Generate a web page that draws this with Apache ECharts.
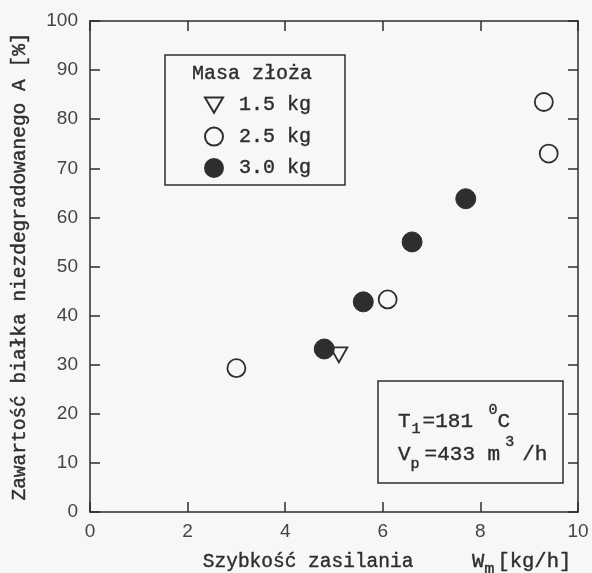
<!DOCTYPE html>
<html><head><meta charset="utf-8">
<script src="https://cdn.jsdelivr.net/npm/echarts@6/dist/echarts.min.js"></script>
<style>html,body{margin:0;padding:0;background:#f7f7f5;}#c{width:592px;height:573px;}</style>
</head><body><div id="c"></div>
<script>
// Data
const seriesNames = ['1.5 kg', '2.5 kg', '3.0 kg'];
const x15 = [5.1];
const y15 = [32.0];
const x25 = [3.0, 6.1, 9.3, 9.4];
const y25 = [29.3, 43.3, 83.5, 73.0];
const x30 = [4.8, 5.6, 6.6, 7.7];
const y30 = [33.2, 42.8, 55.0, 63.8];
const xTicks = [0, 2, 4, 6, 8, 10];
const yTicks = [0, 10, 20, 30, 40, 50, 60, 70, 80, 90, 100];
const legendTitle = 'Masa złoża';
const xTitle = 'Szybkość zasilania';
const yTitle = 'Zawartość białka niezdegradowanego A [%]';

const ink = '#2e2e2e';
const lbl = '#444444';
const mono = '"Liberation Mono", "DejaVu Sans Mono", monospace';
const sans = '"Liberation Sans", Arial, sans-serif';
const zip = (xs, ys) => xs.map((x, i) => [x, ys[i]]);

// ECharts component text style (color / textBorder*)
const r = (size, extra) => Object.assign({ color: ink, fontSize: size, fontFamily: mono,
  textBorderColor: ink, textBorderWidth: 0.4 }, extra || {});
// zrender graphic text style (fill / stroke)
const g = (size, extra) => Object.assign({ fill: ink, fontSize: size, fontFamily: mono,
  stroke: ink, lineWidth: 0.4 }, extra || {});

const chart = echarts.init(document.getElementById('c'));
const lineStyle = { color: ink, width: 1.5 };
const frameAxis = {
  axisLine: { show: true, onZero: false, lineStyle: lineStyle },
  axisTick: { show: true, inside: true, length: 10, lineStyle: lineStyle },
  axisLabel: { show: false },
  splitLine: { show: false }
};
chart.setOption({
  backgroundColor: '#f7f7f5',
  animation: false,
  grid: { left: 90, right: 14, top: 21, bottom: 61, outerBoundsMode: 'none', containLabel: false },
  xAxis: [{
    type: 'value', min: 0, max: 10, interval: 2,
    axisLine: { show: true, onZero: false, lineStyle: lineStyle },
    axisTick: { show: true, inside: true, length: 10, lineStyle: lineStyle },
    axisLabel: { color: lbl, fontSize: 19, fontFamily: sans, margin: 10,
      formatter: v => xTicks.includes(v) ? String(v) : '' },
    splitLine: { show: false },
    name: '{t|' + xTitle + '     }{w|W}{s|m}{w|[kg/h]}',
    nameLocation: 'middle', nameGap: 33,
    nameTextStyle: Object.assign(r(19.5), { padding: [0, 0, 0, 106],
      rich: {
        t: r(19.5),
        w: r(20.5),
        s: r(17, { padding: [16, 3, 0, 0] })
      } })
  }, Object.assign({ type: 'value', position: 'top', min: 0, max: 10, interval: 2 }, frameAxis)],
  yAxis: [{
    type: 'value', min: 0, max: 100, interval: 10,
    axisLine: { show: true, onZero: false, lineStyle: lineStyle },
    axisTick: { show: true, inside: true, length: 10, lineStyle: lineStyle },
    axisLabel: { color: lbl, fontSize: 19, fontFamily: sans, margin: 12,
      formatter: v => yTicks.includes(v) ? String(v) : '' },
    splitLine: { show: false },
    name: yTitle, nameLocation: 'middle', nameGap: 60,
    nameTextStyle: r(19.5)
  }, Object.assign({ type: 'value', position: 'right', min: 0, max: 100, interval: 10 }, frameAxis)],
  legend: {
    orient: 'vertical', left: 204, top: 95, padding: 0,
    itemWidth: 18, itemHeight: 18, itemGap: 11,
    symbolRotate: 0, symbolKeepAspect: true,
    data: [
      { name: seriesNames[0], icon: 'path://M0,0L20,0L10,17Z' },
      { name: seriesNames[1] },
      { name: seriesNames[2] }
    ],
    textStyle: r(20, { padding: [0, 0, 0, 11] }),
    selectedMode: false
  },
  series: [
    { name: seriesNames[0], type: 'scatter', data: zip(x15, y15), symbol: 'triangle', symbolRotate: 180,
      symbolSize: [17, 15], itemStyle: { color: 'rgba(0,0,0,0)', borderColor: ink, borderWidth: 1.8, opacity: 1 } },
    { name: seriesNames[1], type: 'scatter', data: zip(x25, y25), symbol: 'circle', symbolSize: 18,
      itemStyle: { color: 'rgba(0,0,0,0)', borderColor: ink, borderWidth: 1.8, opacity: 1 } },
    { name: seriesNames[2], type: 'scatter', data: zip(x30, y30), symbol: 'circle', symbolSize: 20,
      itemStyle: { color: '#2e2e2e', borderColor: '#2e2e2e', borderWidth: 1, opacity: 1 } }
  ],
  graphic: [
    { type: 'rect', shape: { x: 165, y: 55, width: 180, height: 130 },
      style: { fill: 'rgba(0,0,0,0)', stroke: ink, lineWidth: 1.5 } },
    { type: 'text', x: 192, y: 74,
      style: Object.assign(g(20), { text: legendTitle, verticalAlign: 'middle' }) },
    { type: 'rect', shape: { x: 378, y: 381, width: 185, height: 102 },
      style: { fill: 'rgba(0,0,0,0)', stroke: ink, lineWidth: 1.5 } },
    { type: 'text', x: 398, y: 421,
      style: { text: '{b|T}{s|1}{b|=181 }{p|0}{b|C}', verticalAlign: 'middle',
        rich: {
          b: g(21),
          s: g(15, { padding: [16, 2, 0, 1] }),
          p: g(15, { padding: [0, 0, 22, 3] })
        } } },
    { type: 'text', x: 398, y: 454,
      style: { text: '{b|V}{s|p}{b|=433 m}{p|3}{b|/h}', verticalAlign: 'middle',
        rich: {
          b: g(21),
          s: g(15, { padding: [20, 5, 0, 0] }),
          p: g(15, { padding: [0, 8, 24, 5] })
        } } }
  ]
});
</script></body></html>
